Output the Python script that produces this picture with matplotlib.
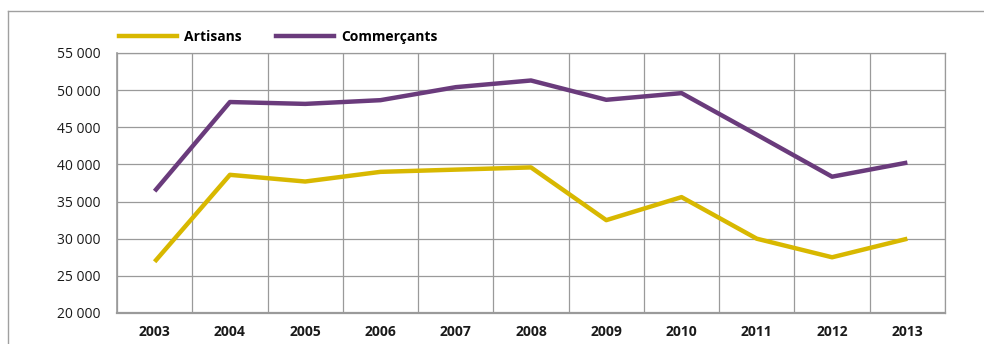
import matplotlib
matplotlib.use("Agg")
import matplotlib.pyplot as plt
from matplotlib.lines import Line2D
from matplotlib.ticker import FuncFormatter, MultipleLocator

# ── Données ──────────────────────────────────────────────────────────────────
years = [2003, 2004, 2005, 2006, 2007, 2008, 2009, 2010, 2011, 2012, 2013]
artisans = [26900, 38600, 37700, 39000, 39300, 39600, 32500, 35600, 30000, 27500, 30000]
commercants = [36400, 48400, 48150, 48650, 50400, 51300, 48700, 49600, 44000, 38350, 40250]

YELLOW = "#d8b800"
PURPLE = "#6a3b7c"
GRID = "#9a9a9a"

plt.rcParams["font.family"] = ["Open Sans", "DejaVu Sans"]

fig = plt.figure(figsize=(9.84, 3.44), dpi=100)
W, H = 984, 344
ax = fig.add_axes([117 / W, 1 - 313 / H, (945 - 117) / W, (313 - 53) / H])

x = list(range(len(years)))
ax.plot(x, artisans, color=YELLOW, lw=3.2, solid_capstyle="butt", zorder=3)
ax.plot(x, commercants, color=PURPLE, lw=3.2, solid_capstyle="butt", zorder=3)

ax.set_xlim(-0.5, len(years) - 0.5)
ax.set_ylim(20000, 55000)
ax.yaxis.set_major_locator(MultipleLocator(5000))
ax.yaxis.set_major_formatter(FuncFormatter(lambda v, _: f"{int(v):,}".replace(",", " ")))

# gridlines on category boundaries
for b in range(len(years) + 1):
    ax.axvline(b - 0.5, color=GRID, lw=0.9, zorder=1)
ax.grid(axis="y", color=GRID, lw=0.9, zorder=1)
ax.set_axisbelow(True)

ax.set_xticks(x)
ax.set_xticklabels([str(y) for y in years], fontweight="bold", fontsize=10)
ax.tick_params(axis="both", length=0, labelsize=10, colors="#1a1a1a")
ax.tick_params(axis="x", pad=9)
ax.tick_params(axis="y", pad=12)
for s in ax.spines.values():
    s.set_color(GRID)
    s.set_linewidth(0.9)
ax.spines["bottom"].set_linewidth(1.6)
ax.spines["left"].set_linewidth(1.2)

# légende
handles = [Line2D([], [], color=YELLOW, lw=3.2),
           Line2D([], [], color=PURPLE, lw=3.2)]
fig.legend(handles, ["Artisans", "Commerçants"], loc="center left",
           bbox_to_anchor=(106 / W, 1 - 37 / H), ncol=2, frameon=False,
           handlelength=4.2, handletextpad=0.5, columnspacing=2.5,
           prop={"weight": "bold", "size": 10})

# cadre extérieur
fig.add_artist(Line2D([8 / W, 1], [1 - 11 / H, 1 - 11 / H], color="#a0a0a0", lw=1.0,
                      transform=fig.transFigure))
fig.add_artist(Line2D([8 / W, 8 / W], [0, 1 - 11 / H], color="#a0a0a0", lw=1.0,
                      transform=fig.transFigure))

fig.savefig("out.png", dpi=100, facecolor="white")
